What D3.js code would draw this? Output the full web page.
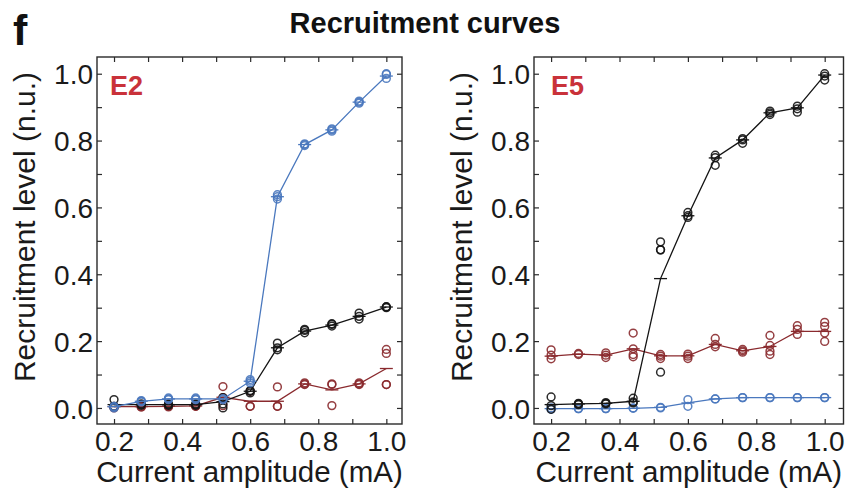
<!DOCTYPE html>
<html>
<head>
<meta charset="utf-8">
<script src="https://cdn.jsdelivr.net/npm/d3@7"></script>
<style>
  html, body { margin: 0; padding: 0; background: #fff; }
  svg { display: block; font-family: "Liberation Sans", Arial, Helvetica, sans-serif; }
</style>
</head>
<body>
<svg id="chart" width="846" height="492"></svg>
<script>
// Stimulation current levels (mA), shared by both electrodes
const currents = [0.2, 0.28, 0.36, 0.44, 0.52, 0.60, 0.68, 0.76, 0.84, 0.92, 1.0];

// Axis ticks
const xTickValues = [0.2, 0.3, 0.4, 0.5, 0.6, 0.7, 0.8, 0.9, 1.0];
const xTickLabels = ["0.2", "0.4", "0.6", "0.8", "1.0"];
const yTickValues = [0, 0.1, 0.2, 0.3, 0.4, 0.5, 0.6, 0.7, 0.8, 0.9, 1.0];
const yTickLabels = ["0.0", "0.2", "0.4", "0.6", "0.8", "1.0"];

// Electrode E2: individual trials per current level and mean recruitment
const e2BlueTrials = [[0.0, 0.005, 0.003], [0.02, 0.022, 0.018], [0.025, 0.03, 0.027], [0.025, 0.03, 0.027], [0.025, 0.028],
  [0.08, 0.085, 0.075], [0.625, 0.638, 0.632], [0.785, 0.79, 0.788], [0.828, 0.835, 0.832], [0.912, 0.918, 0.915], [0.986, 0.998, 1.0]];
const e2BlueMean = [0.004, 0.02, 0.027, 0.027, 0.027, 0.08, 0.632, 0.788, 0.832, 0.915, 0.993];

const e2BlackTrials = [[0.025, 0.005, 0.003], [0.008, 0.01, 0.012], [0.008, 0.01, 0.012], [0.008, 0.01, 0.012], [0.031, 0.012, 0.0],
  [0.045, 0.052, 0.05], [0.194, 0.174, 0.18], [0.225, 0.235, 0.232], [0.245, 0.25, 0.252], [0.266, 0.274, 0.284], [0.3, 0.303, 0.302]];
const e2BlackMean = [0.01, 0.01, 0.01, 0.01, 0.019, 0.05, 0.18, 0.23, 0.248, 0.274, 0.302];

const e2RedTrials = [[0.003, 0.005, 0.0], [0.003, 0.005, 0.003], [0.005, 0.003, 0.006], [0.005, 0.005, 0.007], [0.064, 0.031, 0.007],
  [0.005, 0.005, 0.05], [0.063, 0.005, 0.005], [0.072, 0.07, 0.075], [0.07, 0.072, 0.007], [0.072, 0.07, 0.075], [0.175, 0.163, 0.07, 0.07]];
const e2RedMean = [0.004, 0.004, 0.005, 0.006, 0.032, 0.02, 0.02, 0.072, 0.054, 0.072, 0.118];

// Electrode E5
const e5BlackTrials = [[0.033, 0.007, -0.004], [0.012, 0.01, 0.014], [0.014, 0.012, 0.016], [0.029, 0.018, 0.015], [0.497, 0.473, 0.473, 0.107],
  [0.585, 0.575, 0.57], [0.756, 0.749, 0.726], [0.806, 0.802, 0.792], [0.888, 0.883, 0.878], [0.903, 0.895, 0.885], [1.0, 0.993, 0.981]];
const e5BlackMean = [0.01, 0.012, 0.014, 0.02, 0.387, 0.575, 0.748, 0.802, 0.883, 0.898, 0.996];

const e5RedTrials = [[0.174, 0.158, 0.147], [0.163, 0.16], [0.165, 0.151, 0.158], [0.224, 0.177, 0.16, 0.153], [0.16, 0.155, 0.148],
  [0.161, 0.155, 0.148], [0.208, 0.19, 0.183], [0.175, 0.171, 0.167], [0.217, 0.187, 0.17, 0.16], [0.246, 0.235, 0.22], [0.256, 0.244, 0.224, 0.199]];
const e5RedMean = [0.155, 0.161, 0.158, 0.177, 0.156, 0.156, 0.19, 0.171, 0.184, 0.229, 0.229];

const e5BlueTrials = [[0.0, -0.004], [-0.002, -0.002], [-0.002, -0.002], [-0.001, 0.0], [0.002, 0.0],
  [0.025, 0.005], [0.027, 0.027], [0.031, 0.031], [0.031, 0.031], [0.031, 0.031], [0.031, 0.031]];
const e5BlueMean = [-0.002, -0.002, -0.002, -0.001, 0.002, 0.015, 0.027, 0.031, 0.031, 0.031, 0.031];

// Colours
const BLUE = "#4a78be", BLACK = "#141414", RED = "#8a2a2e", LABEL_RED = "#c9323a", FRAME = "#2a2a2a";

const panels = [
  { label: "E2", left: 97, right: 402, xDomain: [0.15, 1.046], labelDx: 13,
    series: [
      { color: RED, trials: e2RedTrials, mean: e2RedMean },
      { color: BLACK, trials: e2BlackTrials, mean: e2BlackMean },
      { color: BLUE, trials: e2BlueTrials, mean: e2BlueMean }
    ] },
  { label: "E5", left: 534, right: 843.5, xDomain: [0.15, 1.055], labelDx: 17,
    series: [
      { color: BLUE, trials: e5BlueTrials, mean: e5BlueMean },
      { color: RED, trials: e5RedTrials, mean: e5RedMean },
      { color: BLACK, trials: e5BlackTrials, mean: e5BlackMean }
    ] }
];

const plotTop = 57, plotBottom = 424;
const svg = d3.select("#chart");

// Figure letter and title
svg.append("text").attr("x", 13).attr("y", 45)
  .attr("font-size", 43).attr("font-weight", "bold").attr("fill", "#111").text("f");
svg.append("text").attr("x", 425).attr("y", 33).attr("text-anchor", "middle")
  .attr("font-size", 29).attr("font-weight", "bold").attr("fill", "#111").text("Recruitment curves");

panels.forEach(p => {
  const x = d3.scaleLinear().domain(p.xDomain).range([p.left, p.right]);
  const y = d3.scaleLinear().domain([-0.048, 1.05]).range([plotBottom, plotTop]);
  const g = svg.append("g");

  const fmtX = v => { const i = xTickLabels.indexOf(v.toFixed(1)); return i >= 0 ? xTickLabels[i] : ""; };
  const fmtY = v => { const i = yTickLabels.indexOf(v.toFixed(1)); return i >= 0 ? yTickLabels[i] : ""; };

  // Inward ticks on all four sides; labels on bottom and left only
  const axes = [
    g.append("g").attr("transform", `translate(0,${plotBottom})`)
      .call(d3.axisBottom(x).tickValues(xTickValues).tickSize(-5).tickPadding(7).tickFormat(fmtX)),
    g.append("g").attr("transform", `translate(0,${plotTop})`)
      .call(d3.axisTop(x).tickValues(xTickValues).tickSize(-5).tickFormat("")),
    g.append("g").attr("transform", `translate(${p.left},0)`)
      .call(d3.axisLeft(y).tickValues(yTickValues).tickSize(-5).tickPadding(4).tickFormat(fmtY)),
    g.append("g").attr("transform", `translate(${p.right},0)`)
      .call(d3.axisRight(y).tickValues(yTickValues).tickSize(-5).tickFormat(""))
  ];
  axes.forEach(a => {
    a.select(".domain").remove();
    a.selectAll(".tick line").attr("stroke", FRAME).attr("stroke-width", 1.2);
    a.selectAll(".tick text").attr("font-size", 28).attr("fill", "#1a1a1a")
      .attr("font-family", "'Liberation Sans', Arial, sans-serif");
  });
  axes[0].selectAll(".tick text").attr("dy", "0.71em");
  axes[2].selectAll(".tick text").attr("dy", "0.36em");

  // Plot frame
  g.append("rect").attr("x", p.left).attr("y", plotTop)
    .attr("width", p.right - p.left).attr("height", plotBottom - plotTop)
    .attr("fill", "none").attr("stroke", FRAME).attr("stroke-width", 1.4);

  // Series: individual trials as open circles, means joined by a line with a short dash
  const line = d3.line().x((d, i) => x(currents[i])).y(d => y(d));
  p.series.forEach(s => {
    const sg = g.append("g");
    sg.append("path").datum(s.mean).attr("d", line)
      .attr("fill", "none").attr("stroke", s.color).attr("stroke-width", 1.3);
    sg.selectAll("line.mean").data(s.mean).join("line").attr("class", "mean")
      .attr("x1", (d, i) => x(currents[i]) - 6.5).attr("x2", (d, i) => x(currents[i]) + 6.5)
      .attr("y1", d => y(d)).attr("y2", d => y(d))
      .attr("stroke", s.color).attr("stroke-width", 1.3);
    const pts = s.trials.flatMap((vals, i) => vals.map(v => ({ c: currents[i], v })));
    sg.selectAll("circle").data(pts).join("circle")
      .attr("cx", d => x(d.c)).attr("cy", d => y(d.v)).attr("r", 3.9)
      .attr("fill", "none").attr("stroke", s.color).attr("stroke-width", 1.5).attr("stroke-opacity", 0.9);
  });

  // Electrode label
  g.append("text").attr("x", p.left + p.labelDx).attr("y", 95)
    .attr("font-size", 27).attr("font-weight", "bold").attr("fill", LABEL_RED).text(p.label);

  // Axis titles
  g.append("text").attr("x", (p.left + p.right) / 2).attr("y", 482).attr("text-anchor", "middle")
    .attr("font-size", 29.5).attr("fill", "#1a1a1a").text("Current amplitude (mA)");
  g.append("text").attr("transform", `translate(${p.left - 62},227) rotate(-90)`).attr("text-anchor", "middle")
    .attr("font-size", 30).attr("fill", "#1a1a1a").text("Recruitment level (n.u.)");
});
</script>
</body>
</html>
